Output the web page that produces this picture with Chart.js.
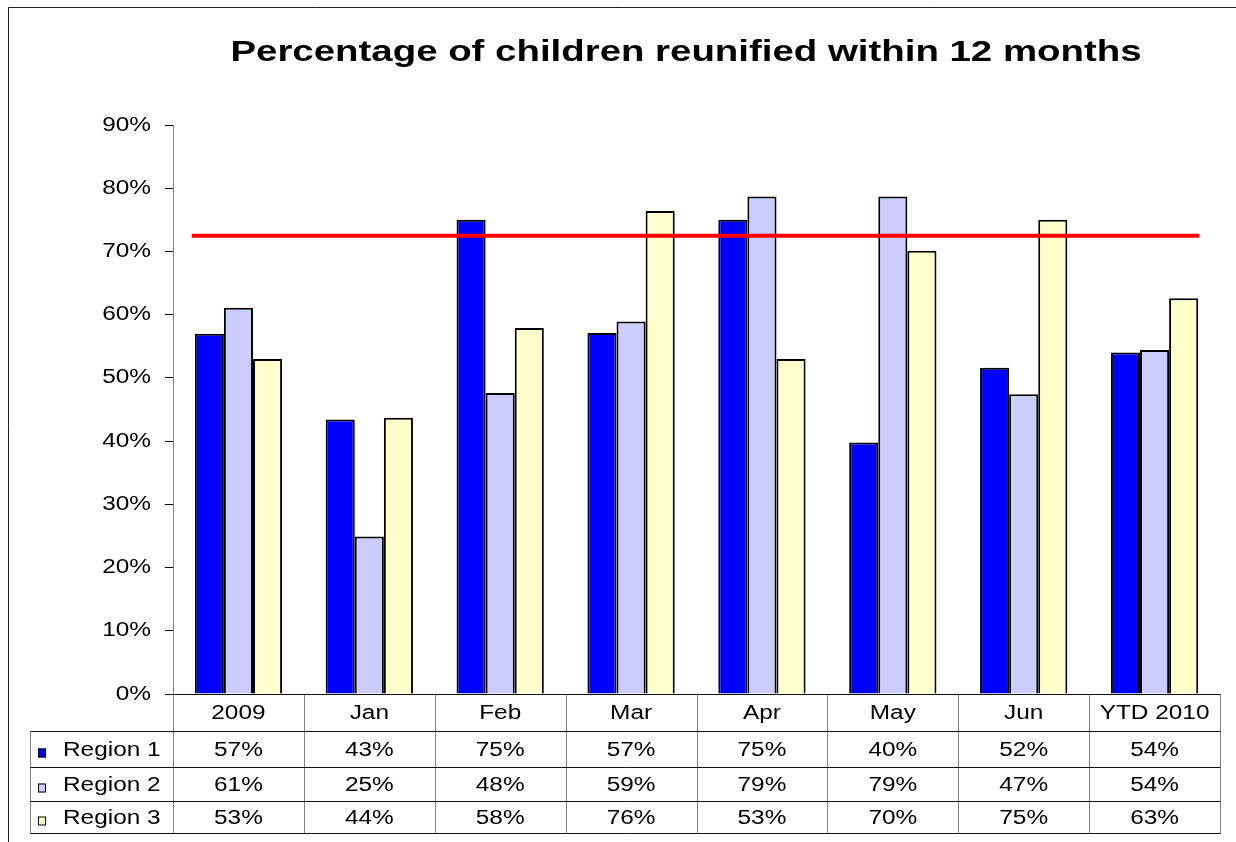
<!DOCTYPE html>
<html>
<head>
<meta charset="utf-8">
<title>Percentage of children reunified within 12 months</title>
<script src="https://cdn.jsdelivr.net/npm/chart.js@4.4.1/dist/chart.umd.min.js"></script>
<style>
  html, body { margin: 0; padding: 0; background: #fff; }
  #wrap { position: relative; width: 1236px; height: 842px; }
</style>
</head>
<body>
<div id="wrap"><canvas id="chart" width="1236" height="842"></canvas></div>
<script>
const TITLE = "Percentage of children reunified within 12 months";
const CATEGORIES = ["2009", "Jan", "Feb", "Mar", "Apr", "May", "Jun", "YTD 2010"];
const REGION_1 = [57.0, 43.4, 75.0, 57.1, 75.0, 39.8, 51.6, 54.0];
const REGION_2 = [61.1, 24.9, 47.6, 58.9, 78.7, 78.7, 47.4, 54.4];
const REGION_3 = [53.0, 43.7, 57.9, 76.4, 53.0, 70.1, 75.0, 62.6];
const SERIES_NAMES = ["Region 1", "Region 2", "Region 3"];
const TARGET = 72.5;
const Y_TICKS = [0, 10, 20, 30, 40, 50, 60, 70, 80, 90];

const COLORS = ["#0000FF", "#CCCCFF", "#FFFFCC"];
const FONT = "'Liberation Sans', Arial, sans-serif";
const STRETCH = 1.22; // the original text is drawn wide

Chart.defaults.font.family = FONT;

// draws text stretched horizontally around its anchor
function wideText(ctx, text, x, y, sx, align) {
  ctx.save();
  ctx.translate(x, y);
  ctx.scale(sx, 1);
  ctx.textAlign = align;
  ctx.fillText(text, 0, 0);
  ctx.restore();
}

const framePlugin = {
  id: "frame",
  beforeDraw(chart) {
    const ctx = chart.ctx;
    ctx.save();
    ctx.fillStyle = "#fff";
    ctx.fillRect(0, 0, chart.width, chart.height);
    ctx.strokeStyle = "#222";
    ctx.lineWidth = 1;
    ctx.beginPath();
    ctx.moveTo(8.5, chart.height);
    ctx.lineTo(8.5, 7.5);
    ctx.lineTo(chart.width, 7.5);
    ctx.stroke();

    ctx.fillStyle = "#000";
    ctx.font = `bold 30px ${FONT}`;
    ctx.textBaseline = "alphabetic";
    wideText(ctx, TITLE, 686, 61, 1.28, "center");
    ctx.restore();
  },
};

const yLabelPlugin = {
  id: "yLabels",
  afterDraw(chart) {
    const ctx = chart.ctx;
    const y = chart.scales.y;
    ctx.save();
    ctx.fillStyle = "#000";
    ctx.font = `20px ${FONT}`;
    ctx.textBaseline = "middle";
    for (const v of Y_TICKS) {
      wideText(ctx, `${v}%`, 151, y.getPixelForValue(v), STRETCH, "right");
    }
    ctx.restore();
  },
};

const targetPlugin = {
  id: "target",
  afterDatasetsDraw(chart) {
    const ctx = chart.ctx;
    const first = chart.getDatasetMeta(0).data[0];
    const lastMeta = chart.getDatasetMeta(chart.data.datasets.length - 1);
    const last = lastMeta.data[lastMeta.data.length - 1];
    const x0 = first.x - first.width / 2 - 3;
    const x1 = last.x + last.width / 2 + 1;
    const yy = chart.scales.y.getPixelForValue(TARGET);
    ctx.save();
    ctx.strokeStyle = "#FF0000";
    ctx.lineWidth = 4;
    ctx.beginPath();
    ctx.moveTo(x0, yy);
    ctx.lineTo(x1, yy);
    ctx.stroke();
    ctx.restore();
  },
};

// Data table under the plot (Excel style)
const tablePlugin = {
  id: "dataTable",
  afterDraw(chart) {
    const ctx = chart.ctx;
    const area = chart.chartArea;
    const xs = chart.scales.x;
    const n = CATEGORIES.length;
    const colW = (area.right - area.left) / n;
    const rowEdges = [0, 37, 73, 107, 139].map((o) => Math.round(area.bottom + o) + 0.5);
    const tableLeft = 30.5;
    const right = Math.round(area.right) + 0.5;

    ctx.save();
    ctx.lineWidth = 1;

    // vertical lines
    ctx.strokeStyle = "#808080";
    ctx.beginPath();
    for (let i = 0; i <= n; i++) {
      const x = Math.round(area.left + i * colW) + 0.5;
      ctx.moveTo(x, rowEdges[0]);
      ctx.lineTo(x, rowEdges[4]);
    }
    ctx.moveTo(tableLeft, rowEdges[1]);
    ctx.lineTo(tableLeft, rowEdges[4]);
    ctx.stroke();

    // horizontal lines
    ctx.strokeStyle = "#111";
    ctx.beginPath();
    ctx.moveTo(Math.round(area.left), rowEdges[0]);
    ctx.lineTo(right, rowEdges[0]);
    for (let r = 1; r <= 4; r++) {
      ctx.moveTo(tableLeft, rowEdges[r]);
      ctx.lineTo(right, rowEdges[r]);
    }
    ctx.stroke();

    ctx.fillStyle = "#000";
    ctx.font = `20px ${FONT}`;
    ctx.textBaseline = "middle";

    // header row
    const hy = (rowEdges[0] + rowEdges[1]) / 2 + 0.5;
    CATEGORIES.forEach((c, i) => {
      wideText(ctx, c, xs.getPixelForValue(i), hy, STRETCH, "center");
    });

    // series rows
    chart.data.datasets.forEach((ds, r) => {
      const cy = (rowEdges[r + 1] + rowEdges[r + 2]) / 2 + 1;
      // legend key
      ctx.fillStyle = ds.backgroundColor;
      ctx.fillRect(38, cy - 2, 8, 9);
      ctx.strokeStyle = "#000";
      ctx.strokeRect(38.5, cy - 1.5, 7, 8);
      ctx.fillStyle = "#000";
      wideText(ctx, ds.label, 63, cy, STRETCH, "left");
      ds.data.forEach((v, i) => {
        wideText(ctx, `${Math.round(v)}%`, xs.getPixelForValue(i), cy, STRETCH, "center");
      });
    });
    ctx.restore();
  },
};

const seriesValues = [REGION_1, REGION_2, REGION_3];

new Chart(document.getElementById("chart"), {
  type: "bar",
  data: {
    labels: CATEGORIES,
    datasets: seriesValues.map((vals, i) => ({
      label: SERIES_NAMES[i],
      data: vals,
      backgroundColor: COLORS[i],
      borderColor: "#000",
      borderWidth: 2,
      categoryPercentage: 0.667,
      barPercentage: 1.0,
    })),
  },
  options: {
    responsive: false,
    animation: false,
    devicePixelRatio: 1,
    layout: { padding: { left: 165, right: 16, top: 125, bottom: 148 } },
    plugins: {
      legend: { display: false },
      tooltip: { enabled: false },
      title: { display: false },
    },
    scales: {
      x: { display: false, offset: true },
      y: {
        min: 0,
        max: 90,
        ticks: { display: false, stepSize: 10 },
        grid: { drawOnChartArea: false, drawTicks: true, tickLength: 8, color: "#000" },
        border: { color: "#808080", width: 1 },
      },
    },
  },
  plugins: [framePlugin, yLabelPlugin, targetPlugin, tablePlugin],
});
</script>
</body>
</html>
